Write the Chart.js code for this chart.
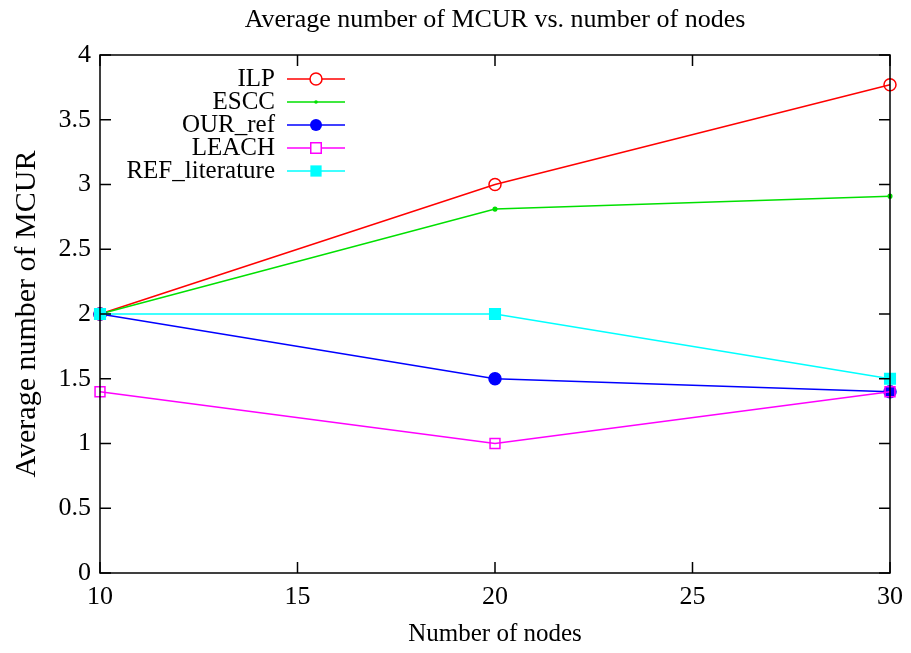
<!DOCTYPE html>
<html>
<head>
<meta charset="utf-8">
<script src="https://cdn.jsdelivr.net/npm/chart.js@4"></script>
<style>
  html, body { margin: 0; padding: 0; background: #fff; }
  #wrap { width: 911px; height: 653px; }
</style>
</head>
<body>
<div id="wrap"><canvas id="chart" width="911" height="653"></canvas></div>
<script>
(function () {
  'use strict';

  var nodes = [10, 20, 30];
  var ilp = [2, 3, 3.77];
  var escc = [2, 2.81, 2.91];
  var ourRef = [2, 1.5, 1.4];
  var leach = [1.4, 1, 1.4];
  var refLit = [2, 2, 1.5];

  var FONT = '"Liberation Serif", "DejaVu Serif", serif';

  function pts(ys) {
    return ys.map(function (y, i) { return { x: nodes[i], y: y }; });
  }

  var series = [
    { label: 'ILP', data: ilp, color: '#ff0000', style: 'circle', radius: 6, fill: false, order: 4 },
    { label: 'ESCC', data: escc, color: '#00e000', style: 'circle', radius: 1.8, fill: true, order: 3 },
    { label: 'OUR_ref', data: ourRef, color: '#0000ff', style: 'circle', radius: 6, fill: true, order: 2 },
    { label: 'LEACH', data: leach, color: '#ff00ff', style: 'rect', radius: 7, fill: false, order: 1 },
    { label: 'REF_literature', data: refLit, color: '#00ffff', style: 'rect', radius: 7.5, fill: true, order: 0 }
  ];

  // gnuplot style frame: full box and inward ticks on all four sides
  var framePlugin = {
    id: 'frame',
    afterDatasetsDraw: function (chart) {
      var ctx = chart.ctx, a = chart.chartArea;
      var xs = chart.scales.x, ys = chart.scales.y;
      var len = 11;
      ctx.save();
      ctx.strokeStyle = '#000';
      ctx.lineWidth = 1.5;
      ctx.strokeRect(a.left, a.top, a.right - a.left, a.bottom - a.top);
      ctx.beginPath();
      ys.ticks.forEach(function (t) {
        var p = ys.getPixelForValue(t.value);
        ctx.moveTo(a.left, p); ctx.lineTo(a.left + len, p);
        ctx.moveTo(a.right, p); ctx.lineTo(a.right - len, p);
      });
      xs.ticks.forEach(function (t) {
        var p = xs.getPixelForValue(t.value);
        ctx.moveTo(p, a.bottom); ctx.lineTo(p, a.bottom - len);
        ctx.moveTo(p, a.top); ctx.lineTo(p, a.top + len);
      });
      ctx.stroke();

      // title
      ctx.fillStyle = '#000';
      ctx.font = '26px ' + FONT;
      ctx.textAlign = 'center';
      ctx.textBaseline = 'middle';
      ctx.fillText('Average number of MCUR vs. number of nodes', (a.left + a.right) / 2, 20);

      // legend inside plot, gnuplot style
      ctx.font = '25px ' + FONT;
      ctx.textAlign = 'right';
      series.forEach(function (s, i) {
        var y = 79 + i * 23;
        ctx.fillStyle = '#000';
        ctx.fillText(s.label, 275, y);
        ctx.strokeStyle = s.color;
        ctx.lineWidth = 1.5;
        ctx.beginPath();
        ctx.moveTo(287, y); ctx.lineTo(345, y);
        ctx.stroke();
        var cx = 316, r = s.radius;
        ctx.beginPath();
        if (s.style === 'circle') ctx.arc(cx, y, r, 0, Math.PI * 2);
        else ctx.rect(cx - r * 0.75, y - r * 0.75, r * 1.5, r * 1.5);
        if (s.fill) { ctx.fillStyle = s.color; ctx.fill(); }
        else { ctx.fillStyle = '#fff'; ctx.fill(); ctx.stroke(); }
      });
      ctx.restore();
    }
  };

  new Chart(document.getElementById('chart'), {
    type: 'line',
    data: {
      datasets: series.map(function (s) {
        return {
          label: s.label,
          data: pts(s.data),
          borderColor: s.color,
          borderWidth: 1.5,
          backgroundColor: s.fill ? s.color : '#ffffff',
          pointBackgroundColor: s.fill ? s.color : 'rgba(255,255,255,0)',
          pointBorderColor: s.color,
          pointBorderWidth: 1.5,
          pointStyle: s.style,
          pointRadius: s.radius,
          tension: 0,
          fill: false,
          clip: false,
          order: s.order
        };
      })
    },
    options: {
      responsive: false,
      animation: false,
      events: [],
      layout: { padding: { top: 55, right: 21, left: 0, bottom: 0 } },
      plugins: { legend: { display: false }, tooltip: { enabled: false }, title: { display: false } },
      scales: {
        x: {
          type: 'linear',
          min: 10, max: 30,
          afterFit: function (scale) { scale.height = 80; scale.paddingLeft = 0; scale.paddingRight = 0; },
          ticks: { stepSize: 5, color: '#000', padding: 9, font: { family: FONT, size: 26 } },
          grid: { display: false, drawTicks: false },
          border: { display: false },
          title: { display: true, text: 'Number of nodes', color: '#000', padding: { top: 8 }, font: { family: FONT, size: 25 } }
        },
        y: {
          min: 0, max: 4,
          afterFit: function (scale) { scale.width = 100; scale.paddingTop = 0; scale.paddingBottom = 0; },
          ticks: {
            stepSize: 0.5, color: '#000', padding: 9, font: { family: FONT, size: 26 },
            callback: function (v) { return String(v); }
          },
          grid: { display: false, drawTicks: false },
          border: { display: false },
          title: { display: true, text: 'Average number of MCUR', color: '#000', padding: { top: 9 }, font: { family: FONT, size: 30 } }
        }
      }
    },
    plugins: [framePlugin]
  });
})();
</script>
</body>
</html>
